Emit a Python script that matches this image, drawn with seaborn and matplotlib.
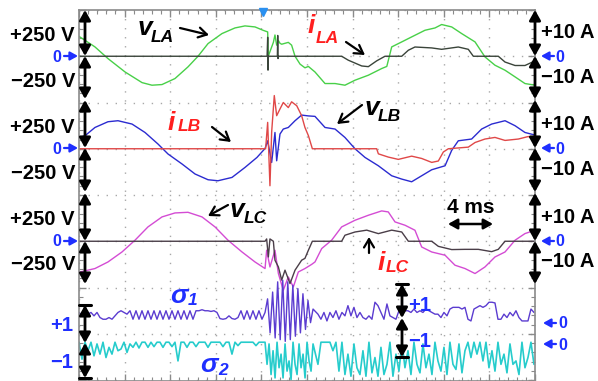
"""Scope capture: line voltages, line currents and switching functions around a fault."""

import numpy as np
import matplotlib.pyplot as plt
from matplotlib.lines import Line2D
import seaborn as sns

FIG_W, FIG_H = 598, 381

GREEN = "#48d048"
DARK_A = "#3a443a"
BLUE = "#2b2bd0"
RED = "#e04848"
MAGENTA = "#d44cd4"
DARK_C = "#4a3e48"
PURPLE = "#5b3cd0"
CYAN = "#26cccc"
LABEL_BLUE = "#1f2fff"
LABEL_RED = "#ff1f1f"

# scope setup: 10 x 8 divisions, 4 ms/div, 500 V/div, 20 A/div
T_SPAN = 40.0
V_DIV = 500.0
A_DIV = 20.0
S_DIV = 1.36
ZERO_A, ZERO_B, ZERO_C = 7.0, 5.0, 3.0
ZERO_S1, ZERO_S2 = 1.24, 0.78

# ---- phase A ----
t_vla = [0, 1.40, 2.54, 4.04, 5.53, 6.40, 7.28, 8.42, 9.56, 10.44, 11.32, 12.54,
         13.68, 14.56, 15.44, 16.14, 16.55, 16.61, 16.75, 17.05, 17.19, 17.34,
         17.49, 17.63, 17.78, 18.36, 18.65, 18.95, 19.39, 19.82, 20.12, 20.70,
         21.58, 22.46, 23.33, 24.21, 25.38, 26.55, 27.00, 27.43, 28.31, 29.18,
         30.35, 31.23, 31.81, 32.69, 33.57, 34.74, 35.61, 36.49, 37.37, 38.25,
         39.12, 40.0]
v_la = [215, 101, -25, -170, -285, -313, -306, -241, -115, 0, 137, 245,
        306, 328, 317, 281, 263, 0, 50, 150, 230, 120,
        170, 140, 130, 150, 120, 0, -85, -125, -110, -170,
        -295, -295, -313, -259, -205, -133, -110, 101, 155, 209,
        281, 306, 343, 317, 245, 155, -7, -97, -151, -223,
        -295, -313]

t_ila = [0, 16.50, 16.55, 16.58, 16.61, 17.40, 17.43, 17.46, 17.49, 23.04,
         23.62, 24.80, 25.38, 26.11, 26.84, 28.31, 28.89, 29.47, 30.94, 31.81,
         33.27, 34.15, 34.59, 36.78, 37.37, 38.25, 39.12, 40.0]
i_la = [0, 0, 8.2, -6.0, 0, 0, 9.0, -1.0, 0, 0,
        -1.7, -4.2, -4.5, -2.0, 0, 0, 2.6, 4.0, 3.6, 3.0,
        4.0, 3.0, 0, 0, -2.5, -4.0, -4.0, -2.0]

# ---- phase B ----
t_vlb = [0, 0.53, 1.40, 2.54, 3.42, 4.65, 5.79, 6.93, 7.81, 9.04, 10.18, 11.32,
         12.19, 13.42, 14.56, 15.61, 16.32, 16.55, 16.90, 17.19, 17.34, 17.63,
         17.92, 18.36, 18.95, 19.53, 20.12, 20.70, 21.58, 22.46, 23.33, 24.21,
         25.09, 26.26, 27.43, 28.31, 29.18, 30.06, 30.94, 32.11, 32.69, 33.27,
         34.44, 35.32, 36.20, 37.37, 38.25, 39.12, 40.0]
v_lb = [120, 141, 230, 292, 303, 267, 176, 51, -57, -165, -273, -335,
        -346, -310, -202, -94, 3, 86, -148, 176, -130, 159,
        213, 230, 303, 364, 355, 350, 230, 213, 122, 0,
        -94, -184, -292, -328, -357, -292, -227, -184, -18, 86,
        105, 213, 267, 303, 249, 176, 148]

t_ilb = [0, 16.37, 16.55, 16.75, 16.90, 17.13, 17.34, 17.63, 17.92, 18.36,
         18.65, 19.10, 19.53, 19.82, 20.12, 20.47, 26.11, 26.26, 27.13, 28.01,
         29.18, 30.06, 30.94, 31.52, 31.96, 32.40, 34.15, 34.74, 35.61, 36.49,
         37.37, 38.54, 39.42, 40.0]
i_lb = [0, 0, 11.4, -16.0, 7.2, 23.0, 14.3, 17.2, 20.0, 17.8,
        20.3, 18.6, 14.3, 9.2, 5.7, 0, 0, -2.2, -3.6, -4.6,
        -3.2, -4.2, -5.9, -5.3, -1.4, 0, 0.7, 2.7, 4.2, 4.9,
        3.6, 4.2, 5.3, 3.6]

# ---- phase C ----
t_vlc = [0, 1.40, 2.54, 3.77, 4.91, 6.05, 7.28, 8.42, 9.56, 10.79, 11.93, 13.07,
         14.30, 15.44, 16.32, 16.46, 16.75, 17.19, 17.49, 17.92, 18.36, 18.80,
         19.24, 19.82, 20.41, 20.70, 21.29, 22.16, 23.04, 24.21, 25.38, 26.55,
         27.13, 27.72, 28.60, 29.47, 30.06, 30.94, 32.11, 32.98, 33.86, 34.74,
         35.61, 36.49, 37.37, 38.25, 39.12, 40.0]
v_lc = [-335, -295, -224, -116, 11, 155, 263, 306, 313, 263, 155, 11,
        -116, -224, -295, -97, -278, -97, -349, -530, -386, -494,
        -332, -295, -250, -224, -79, 11, 155, 227, 281, 328,
        317, 209, 173, 119, -62, -116, -151, -259, -295, -349,
        -278, -170, -116, 11, 83, 119]

t_ilc = [0, 16.32, 16.46, 16.61, 16.75, 17.05, 17.19, 17.49, 17.78, 18.07,
         18.51, 18.95, 19.53, 19.82, 20.12, 20.47, 23.04, 23.33, 24.21, 25.24,
         26.26, 27.43, 28.31, 28.89, 30.94, 31.52, 32.69, 33.86, 35.03, 36.20,
         36.78, 37.37, 40.0]
i_lc = [0, 0, 1.0, -6.8, 1.0, 0, -8.2, -11.1, -16.8, -12.5,
        -18.3, -12.5, -8.2, -7.4, -3.9, 0, 0, 2.6, 4.0, 4.8,
        3.3, 4.8, 4.0, 0, 0, -2.2, -3.6, -3.5, -3.5, -4.5,
        -3.5, 0, 0]

# ---- switching functions, uniformly sampled in three record pieces ----
SIGMA_SPANS = [(0.0, 16.05), (16.32, 20.53), (20.96, 39.91)]

sigma1_pre = [0.30, 0.20, 0.35, 0.25, 0.30, 0.20, 0.30,
              0.15, 0.10, 0.10, 0.15, 0.10, 0.20,
              0.30, 0.35, 0.30, 0.25,
              0.35, 0.10, 0.35, 0.10, 0.35, 0.10, 0.35, 0.10, 0.35, 0.10, 0.35, 0.10,
              0.35, 0.10, 0.35, 0.10, 0.35, 0.10, 0.35, 0.10, 0.35, 0.10, 0.35,
              0.35, 0.38, 0.35, 0.35, 0.33, 0.35, 0.30,
              0.12, 0.10, 0.12, 0.20, 0.12, 0.10, 0.15,
              0.35, 0.10, 0.35, 0.10, 0.35, 0.10, 0.35, 0.10]
sigma1_fault = [0.30, 0.70, -0.30, 0.90, -0.45, 1.20, -0.50, 1.25, -0.55, 1.20,
                -0.50, 1.10, -0.40, 1.00, -0.30, 0.85, -0.20, 0.65, 0.00, 0.40]
sigma1_post = [0.25, 0.10, 0.30, 0.05, 0.30, 0.15, 0.35, 0.10, 0.30, 0.20,
               0.50, 0.20, 0.45, 0.15, 0.30,
               0.15, 0.10, 0.20, 0.10, 0.60,
               0.50, 0.30, 0.10, 0.55, 0.20,
               0.15, 0.10, 0.35, 0.30, 0.35,
               0.35, 0.30, 0.40, 0.30, 0.35, 0.30, 0.40, 0.35, 0.30, 0.25,
               0.25, 0.15, 0.30, 0.20, 0.40, 0.45,
               0.45, 0.45, 0.40, 0.45,
               0.10, 0.05, 0.40,
               0.45, 0.50, 0.45, 0.50,
               0.60, 0.60, 0.58,
               0.10, 0.10, 0.25, 0.15, 0.30,
               0.20, 0.35, 0.15, 0.05, 0.05, 0.05,
               0.40, 0.30]

sigma2_pre = [0.05, -0.45, 0.05, -0.20, 0.05, -0.35, 0.00, -0.30, 0.05, -0.40,
              -0.10, -0.30, 0.05, -0.20, -0.15, 0.05, -0.25, 0.00, -0.10, 0.05,
              -0.12, 0.05, 0.05, -0.10, 0.05, -0.08, 0.05, 0.05, -0.10, 0.05,
              0.05, -0.08, 0.05, -0.50, 0.05, 0.05, -0.10, 0.05, 0.05, -0.08,
              0.05, 0.05, 0.05, -0.10, 0.05, 0.05, 0.05, 0.05, -0.08, 0.05,
              0.05, -0.30, 0.05, -0.05, 0.05, 0.05, 0.05, 0.05, 0.05, -0.05,
              0.05, 0.05]
sigma2_fault = [0.05, -0.60, 0.00, -0.90, -0.20, -1.00, 0.05, -0.70, -0.30, -1.00,
                0.00, -0.80, -0.50, -1.05, 0.05, -0.60, -0.90, 0.00, -0.70, -0.30,
                -1.00, 0.05, -0.50, -0.80, 0.00]
sigma2_post = [-0.60, 0.05, 0.05, 0.05, 0.05, -0.20, 0.05, -0.80, 0.05, -0.90,
               -0.30, -0.95, 0.00, -0.70, -0.90, -0.20, -0.95, 0.05, -0.85, -0.40,
               -0.95, -0.10, -0.90, -0.60, 0.05, -0.95, -0.30, -0.80, 0.05, -0.70,
               -0.20, -0.90, 0.05, -0.60, -0.85, 0.00, -0.70, -0.30, -0.90, 0.05,
               -0.50, -0.80, -0.10, -0.90, 0.05, -0.60, -0.75, 0.00, -0.85, -0.20,
               0.05, -0.40, 0.05, -0.30, 0.05, -0.50, 0.05, -0.70, -0.20, -0.80,
               0.05, -0.60, -0.30, -0.85, 0.00, -0.60, -0.50, -0.90, 0.05, -0.70,
               -0.40, 0.05, -0.60]


def px(x, y):
    """Pixel position of the capture -> figure fraction."""
    return x / FIG_W, 1 - y / FIG_H


def sampled(pieces):
    t = np.concatenate([np.linspace(a, b, len(p)) for (a, b), p in zip(SIGMA_SPANS, pieces)])
    return t, np.concatenate([np.asarray(p, float) for p in pieces])


def trace(ax, t, vals, zero, per_div, color, lw=1.0):
    y = zero + np.asarray(vals, float) / per_div
    sns.lineplot(x=np.asarray(t, float), y=y, ax=ax, color=color, linewidth=lw,
                 estimator=None, sort=False)


def arrow(fig, p0, p1, style, lw=1.2, ms=12, color="black"):
    fig.add_artist(plt.matplotlib.patches.FancyArrowPatch(
        px(*p0), px(*p1), transform=fig.transFigure, arrowstyle=style,
        lw=lw, color=color, mutation_scale=ms, shrinkA=0, shrinkB=0))


def bar(fig, x, y, half=6, lw=2.2):
    (x0, y0), (x1, _) = px(x - half, y), px(x + half, y)
    fig.add_artist(Line2D([x0, x1], [y0, y0], color="black", lw=lw,
                          transform=fig.transFigure))


def label(fig, x, y, s, size=14.5, color="black", style="normal", ha="left"):
    fig.text(*px(x, y), s, fontsize=size, fontweight="bold", fontstyle=style,
             color=color, ha=ha, va="baseline")


def ch_label(fig, x, y, main, sub, color, sub_dx, sub_dy):
    label(fig, x, y, main, size=19, color=color, style="italic")
    label(fig, x + sub_dx, y + sub_dy, sub, size=12.5, color=color, style="italic")


sns.set_theme(style="white")
plt.rcParams["font.family"] = ["Liberation Sans", "DejaVu Sans"]

fig = plt.figure(figsize=(FIG_W / 100, FIG_H / 100), dpi=100)
fig.patch.set_facecolor("white")
ax = fig.add_axes([79 / FIG_W, 0, 456 / FIG_W, 371 / FIG_H])

# ---- traces ----
trace(ax, t_vla, v_la, ZERO_A, V_DIV, GREEN)
trace(ax, t_ila, i_la, ZERO_A, A_DIV, DARK_A)
trace(ax, t_vlb, v_lb, ZERO_B, V_DIV, BLUE)
trace(ax, t_ilb, i_lb, ZERO_B, A_DIV, RED)
trace(ax, t_vlc, v_lc, ZERO_C, V_DIV, MAGENTA)
trace(ax, t_ilc, i_lc, ZERO_C, A_DIV, DARK_C)
t_s2, s2 = sampled([sigma2_pre, sigma2_fault, sigma2_post])
trace(ax, t_s2, s2, ZERO_S2, S_DIV, CYAN, lw=1.2)
t_s1, s1 = sampled([sigma1_pre, sigma1_fault, sigma1_post])
trace(ax, t_s1, s1, ZERO_S1, S_DIV, PURPLE)

# ---- graticule ----
ax.set_xlim(0, T_SPAN)
ax.set_ylim(8 - 371 / 46.25, 8)
ax.set_xticks(np.arange(0, T_SPAN + 0.1, 4))
ax.set_xticks(np.arange(0, T_SPAN + 0.1, 0.8), minor=True)
ax.set_yticks(np.arange(0, 9, 1))
ax.set_yticks(np.arange(0, 8.01, 0.2), minor=True)
ax.tick_params(which="both", direction="in", top=True, right=True, bottom=True,
               left=True, labelbottom=False, labelleft=False, color="#8a8a8a")
ax.tick_params(which="major", length=5, width=1)
ax.tick_params(which="minor", length=3, width=0.8)
ax.grid(True, which="major", color="#a8a8a8", linestyle=(0, (1, 5.5)), linewidth=1.0)
ax.set_xlabel("")
ax.set_ylabel("")
for sp in ax.spines.values():
    sp.set_color("#8a8a8a")
    sp.set_linewidth(1.2)

# trigger marker
fig.add_artist(Line2D([px(263, 12)[0]], [px(263, 12)[1]], marker="v", color="#2a90f0",
                      markersize=6, transform=fig.transFigure))

# ---- scale arrows ----
DBL = "<|-|>,head_length=0.5,head_width=0.28"
for x in (85, 535):
    for y0, y1 in [(10, 56), (56, 99), (100, 148), (148, 192), (193, 241), (241, 284)]:
        arrow(fig, (x, y0), (x, y1), DBL, lw=2.0, ms=12)
for x, (y0, ym, y1) in [(85, (305, 343, 378)), (402, (284, 318, 357))]:
    arrow(fig, (x, y0), (x, ym), DBL, lw=2.0, ms=12)
    arrow(fig, (x, ym), (x, y1), DBL, lw=2.0, ms=12)
    bar(fig, x, y0)
    bar(fig, x, y1)

# ---- axis labels ----
for yp, yn in [(41, 87), (133, 179), (225, 270)]:
    label(fig, 75, yp, "+250 V", ha="right")
    label(fig, 75, yn, "\u2212250 V", ha="right")
for yp, yn in [(38, 83), (130, 175), (223, 267)]:
    label(fig, 541, yp, "+10 A")
    label(fig, 541, yn, "\u221210 A")

TIP = "-|>,head_length=0.45,head_width=0.25"
for y in (56, 148, 241):
    label(fig, 52, y + 5.5, "0", size=11.5, color=LABEL_BLUE)
    arrow(fig, (64, y), (78, y), TIP, lw=1.6, ms=10, color=LABEL_BLUE)
    arrow(fig, (554, y), (541, y), TIP, lw=1.6, ms=10, color=LABEL_BLUE)
    label(fig, 555, y + 5.5, "0", size=11.5, color=LABEL_BLUE)
for y in (323, 344):
    arrow(fig, (556, y), (543, y), TIP, lw=1.6, ms=10, color=LABEL_BLUE)
    label(fig, 558, y + 5.5, "0", size=11.5, color=LABEL_BLUE)

label(fig, 73, 331, "+1", color=LABEL_BLUE, ha="right")
label(fig, 73, 368, "\u22121", color=LABEL_BLUE, ha="right")
label(fig, 408, 311, "+1", color=LABEL_BLUE)
label(fig, 408, 347, "\u22121", color=LABEL_BLUE)

# ---- channel names ----
HEAD = "->,head_length=0.5,head_width=0.3"
ch_label(fig, 138, 35, "v", "LA", "black", 13, 7)
arrow(fig, (180, 28), (209, 35), HEAD, lw=1.6)
ch_label(fig, 308, 33, "i", "LA", LABEL_RED, 8, 10)
arrow(fig, (346, 42), (365, 55), HEAD, lw=1.6)
ch_label(fig, 168, 130, "i", "LB", LABEL_RED, 10, 1)
arrow(fig, (212, 127), (231, 142), HEAD, lw=1.6)
ch_label(fig, 365, 115, "v", "LB", "black", 13, 6)
arrow(fig, (362, 105), (337, 124), HEAD, lw=1.6)
ch_label(fig, 230, 217, "v", "LC", "black", 14, 6)
arrow(fig, (228, 205), (208, 216), HEAD, lw=1.6)
ch_label(fig, 378, 270, "i", "LC", LABEL_RED, 8, 2)
arrow(fig, (369, 253), (369, 237), HEAD, lw=1.6)
ch_label(fig, 170, 303, "\u03c3", "1", LABEL_BLUE, 18, 2)
ch_label(fig, 200, 372, "\u03c3", "2", LABEL_BLUE, 18, 3)

label(fig, 447, 213, "4 ms", size=15)
arrow(fig, (448, 224), (493, 224), "<|-|>,head_length=0.5,head_width=0.28", lw=1.8, ms=11)

fig.savefig("out.png", dpi=100)
plt.close(fig)
